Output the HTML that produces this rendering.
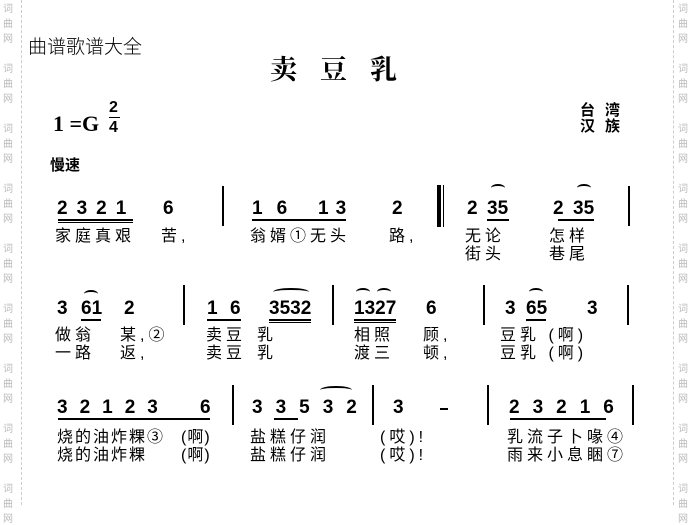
<!DOCTYPE html>
<html><head><meta charset="utf-8"><style>
body{margin:0;width:690px;height:505px;background:#fff;position:relative;overflow:hidden;font-family:"Liberation Sans","Noto Sans CJK SC",sans-serif;color:#000}
.a{position:absolute;white-space:pre;line-height:1}
.n{font-weight:bold;font-size:19px;letter-spacing:3px}
.l{font-size:16px;letter-spacing:4px;font-family:"Liberation Sans","Noto Sans CJK SC",sans-serif}
.u{position:absolute;height:2px;background:#000}
.b{position:absolute;width:2px;background:#000}
.arc{position:absolute;border-top:2px solid #000;border-radius:50% 50% 0 0;height:6px}
.wm{position:absolute;font-size:10px;color:#bbb;width:12px;line-height:15px;font-family:"Noto Sans CJK SC",sans-serif}
.dl{position:absolute;top:0;height:505px;border-left:1px dashed #ccc}
</style></head><body>
<div class="dl" style="left:21px"></div><div class="dl" style="left:673px"></div>
<div class="wm" style="left:3px;top:0">词<br>曲<br>网</div>
<div class="wm" style="left:3px;top:60px">词<br>曲<br>网</div>
<div class="wm" style="left:3px;top:120px">词<br>曲<br>网</div>
<div class="wm" style="left:3px;top:180px">词<br>曲<br>网</div>
<div class="wm" style="left:3px;top:240px">词<br>曲<br>网</div>
<div class="wm" style="left:3px;top:300px">词<br>曲<br>网</div>
<div class="wm" style="left:3px;top:360px">词<br>曲<br>网</div>
<div class="wm" style="left:3px;top:420px">词<br>曲<br>网</div>
<div class="wm" style="left:3px;top:480px">词<br>曲<br>网</div>
<div class="wm" style="left:678px;top:0">词<br>曲<br>网</div>
<div class="wm" style="left:678px;top:60px">词<br>曲<br>网</div>
<div class="wm" style="left:678px;top:120px">词<br>曲<br>网</div>
<div class="wm" style="left:678px;top:180px">词<br>曲<br>网</div>
<div class="wm" style="left:678px;top:240px">词<br>曲<br>网</div>
<div class="wm" style="left:678px;top:300px">词<br>曲<br>网</div>
<div class="wm" style="left:678px;top:360px">词<br>曲<br>网</div>
<div class="wm" style="left:678px;top:420px">词<br>曲<br>网</div>
<div class="wm" style="left:678px;top:480px">词<br>曲<br>网</div>

<div class="a" style="left:28px;top:36px;font-size:19px;font-family:'Noto Sans CJK SC',sans-serif;font-weight:300">曲谱歌谱大全</div>
<div class="a" style="left:270px;top:54px;font-size:27px;font-weight:bold;letter-spacing:23px;font-family:'Noto Serif CJK SC',serif">卖豆乳</div>
<div class="a" style="left:53px;top:113px;font-size:22px;font-weight:bold;font-family:'Liberation Serif',serif">1 =G</div>
<div class="a" style="left:109px;top:100px;font-size:16px;font-weight:bold">2</div>
<div class="u" style="left:109px;top:117px;width:11px;height:1px"></div>
<div class="a" style="left:109px;top:120px;font-size:16px;font-weight:bold">4</div>
<div class="a" style="left:580px;top:103px;font-size:15px;font-weight:bold;letter-spacing:10px">台湾</div>
<div class="a" style="left:580px;top:119px;font-size:15px;font-weight:bold;letter-spacing:10px">汉族</div>
<div class="a" style="left:50px;top:158px;font-size:15px;font-weight:bold">慢速</div>

<!-- row 1 -->
<div class="a n" style="left:57px;top:199px;letter-spacing:9px">2321</div>
<div class="a n" style="left:163px;top:199px">6</div>
<div class="u" style="left:58px;top:219px;width:75px"></div><div class="u" style="left:58px;top:222px;width:75px;height:1px"></div>
<div class="b" style="left:222px;top:186px;height:40px"></div>
<div class="a n" style="left:252px;top:199px;letter-spacing:14px">16</div>
<div class="a n" style="left:318px;top:199px;letter-spacing:7px">13</div>
<div class="a n" style="left:392px;top:199px">2</div>
<div class="u" style="left:252px;top:219px;width:94px"></div>
<div class="b" style="left:437px;top:185px;height:42px;width:4px"></div><div class="b" style="left:443px;top:185px;height:42px;width:1px"></div>
<div class="a n" style="left:467px;top:199px">2</div><div class="a n" style="left:487px;top:199px;letter-spacing:0">35</div>
<div class="u" style="left:487px;top:219px;width:22px"></div>
<div class="arc" style="left:491px;top:184px;width:14px"></div>
<div class="a n" style="left:553px;top:199px">2</div><div class="a n" style="left:573px;top:199px;letter-spacing:0">35</div>
<div class="u" style="left:558px;top:219px;width:36px"></div>
<div class="arc" style="left:577px;top:184px;width:14px"></div>
<div class="b" style="left:628px;top:186px;height:40px"></div>
<div class="a l" style="left:55px;top:229px">家庭真艰</div>
<div class="a l" style="left:161px;top:229px">苦,</div>
<div class="a l" style="left:250px;top:229px">翁婿①无头</div>
<div class="a l" style="left:389px;top:229px">路,</div>
<div class="a l" style="left:465px;top:229px">无论</div>
<div class="a l" style="left:549px;top:229px">怎样</div>
<div class="a l" style="left:465px;top:247px">街头</div>
<div class="a l" style="left:549px;top:247px">巷尾</div>

<!-- row 2 -->
<div class="a n" style="left:57px;top:299px">3</div><div class="a n" style="left:81px;top:299px;letter-spacing:0">61</div>
<div class="u" style="left:81px;top:319px;width:20px"></div>
<div class="arc" style="left:84px;top:290px;width:14px"></div>
<div class="a n" style="left:124px;top:299px">2</div>
<div class="b" style="left:183px;top:285px;height:40px"></div>
<div class="a n" style="left:207px;top:299px">1</div><div class="a n" style="left:230px;top:299px">6</div>
<div class="u" style="left:207px;top:319px;width:34px"></div>
<div class="a n" style="left:269px;top:299px;letter-spacing:0">3532</div>
<div class="u" style="left:269px;top:319px;width:42px"></div><div class="u" style="left:269px;top:322px;width:42px;height:1px"></div>
<div class="arc" style="left:273px;top:288px;width:36px"></div>
<div class="b" style="left:332px;top:285px;height:40px"></div>
<div class="a n" style="left:354px;top:299px;letter-spacing:0">1327</div>
<div class="u" style="left:354px;top:319px;width:42px"></div><div class="u" style="left:354px;top:322px;width:42px;height:1px"></div>
<div class="arc" style="left:356px;top:288px;width:14px"></div><div class="arc" style="left:377px;top:288px;width:14px"></div>
<div class="a n" style="left:426px;top:299px">6</div>
<div class="b" style="left:483px;top:285px;height:40px"></div>
<div class="a n" style="left:505px;top:299px">3</div><div class="a n" style="left:526px;top:299px;letter-spacing:0">65</div>
<div class="u" style="left:526px;top:319px;width:20px"></div>
<div class="arc" style="left:529px;top:288px;width:14px"></div>
<div class="a n" style="left:587px;top:299px">3</div>
<div class="b" style="left:627px;top:285px;height:40px"></div>
<div class="a l" style="left:55px;top:328px">做翁</div><div class="a l" style="left:120px;top:328px">某,②</div>
<div class="a l" style="left:55px;top:346px">一路</div><div class="a l" style="left:120px;top:346px">返,</div>
<div class="a l" style="left:206px;top:328px">卖豆</div><div class="a l" style="left:257px;top:328px">乳</div>
<div class="a l" style="left:206px;top:346px">卖豆</div><div class="a l" style="left:257px;top:346px">乳</div>
<div class="a l" style="left:354px;top:328px">相照</div><div class="a l" style="left:423px;top:328px">顾,</div>
<div class="a l" style="left:354px;top:346px">渡三</div><div class="a l" style="left:423px;top:346px">顿,</div>
<div class="a l" style="left:500px;top:328px">豆乳 (啊)</div>
<div class="a l" style="left:500px;top:346px">豆乳 (啊)</div>

<!-- row 3 -->
<div class="a n" style="left:57px;top:398px;letter-spacing:12px">32123</div>
<div class="a n" style="left:200px;top:398px">6</div>
<div class="u" style="left:58px;top:418px;width:152px"></div>
<div class="b" style="left:232px;top:385px;height:40px"></div>
<div class="a n" style="left:252px;top:398px;letter-spacing:13px">33532</div>
<div class="u" style="left:274px;top:418px;width:24px"></div>
<div class="arc" style="left:320px;top:386px;width:32px"></div>
<div class="b" style="left:372px;top:385px;height:40px"></div>
<div class="a n" style="left:393px;top:398px">3</div>
<div class="u" style="left:440px;top:408px;width:8px"></div>
<div class="b" style="left:487px;top:385px;height:40px"></div>
<div class="a n" style="left:509px;top:398px;letter-spacing:13px">23216</div>
<div class="u" style="left:510px;top:418px;width:96px"></div>
<div class="b" style="left:632px;top:385px;height:40px"></div>
<div class="a l" style="left:57px;top:430px;letter-spacing:2px">烧的油炸粿③</div><div class="a l" style="left:181px;top:430px;letter-spacing:1px">(啊)</div>
<div class="a l" style="left:57px;top:448px;letter-spacing:2px">烧的油炸粿</div><div class="a l" style="left:181px;top:448px;letter-spacing:1px">(啊)</div>
<div class="a l" style="left:250px;top:430px">盐糕仔润</div>
<div class="a l" style="left:250px;top:448px">盐糕仔润</div>
<div class="a l" style="left:380px;top:430px">(哎)!</div>
<div class="a l" style="left:380px;top:448px">(哎)!</div>
<div class="a l" style="left:507px;top:430px">乳流子卜喙④</div>
<div class="a l" style="left:507px;top:448px">雨来小息睏⑦</div>
</body></html>
